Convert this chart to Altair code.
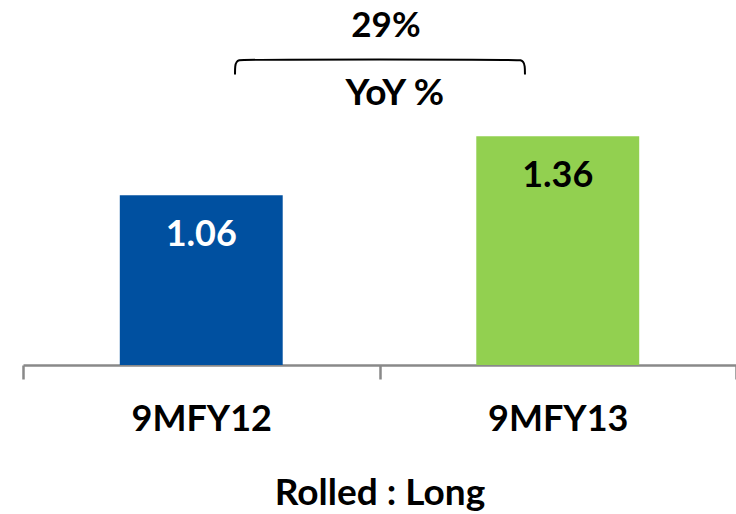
import altair as alt
import pandas as pd

# --- data ---
categories = ["9MFY12", "9MFY13"]
values = [1.06, 1.36]
bar_colors = ["#0050A0", "#92D050"]
label_colors = ["#FFFFFF", "#000000"]
value_labels = ["1.06", "1.36"]

growth_label = "29%"
growth_caption = "YoY %"
x_title = "Rolled : Long"

# bracket annotation (x in band units 0..2, y in value units)
bracket_x = [0.5947, 0.5947, 0.599, 0.606, 0.617, 1.385, 1.396, 1.403, 1.408, 1.408]
bracket_y = [1.672, 1.718, 1.738, 1.745, 1.748, 1.748, 1.745, 1.738, 1.718, 1.672]
annot_x = [1.018, 1.043]
annot_y = [1.92, 1.575]
annot_text = [growth_label, growth_caption]
annot_size = [35, 37]

FONT = "Lato"
Y_BASE = 0.2

bars_df = pd.DataFrame({
    "cat": categories, "val": values, "color": bar_colors,
    "lcolor": label_colors, "label": value_labels,
})
bracket_df = pd.DataFrame({"x": bracket_x, "y": bracket_y, "i": list(range(len(bracket_x)))})
annot_df = pd.DataFrame({"x": annot_x, "y": annot_y, "t": annot_text, "s": annot_size})

yscale = alt.Scale(domain=[Y_BASE, 2.05], zero=False)
bscale = alt.Scale(paddingInner=0, paddingOuter=0)

xenc = alt.X(
    "cat:N", sort=categories, title=x_title, scale=bscale,
    axis=alt.Axis(
        labelAngle=0, labelFont=FONT, labelFontSize=36, labelFontWeight="bold",
        labelColor="#000000", labelPadding=23,
        domainColor="#898989", domainWidth=2.5,
        tickColor="#898989", tickWidth=2.5, tickSize=14, tickBand="extent",
        titleFont=FONT, titleFontSize=37, titleFontWeight="bold", titleColor="#000000",
        titlePadding=38,
    ),
)

bars = alt.Chart(bars_df).mark_bar(width={"band": 0.457}).encode(
    x=xenc,
    y=alt.Y("val:Q", scale=yscale, axis=None),
    y2=alt.Y2(datum=Y_BASE),
    color=alt.Color("color:N", scale=None, legend=None),
)

bar_text = alt.Chart(bars_df).mark_text(
    font=FONT, fontSize=36, fontWeight="bold", baseline="middle", dy=40
).encode(
    x=alt.X("cat:N", sort=categories, scale=bscale, axis=None),
    y=alt.Y("val:Q", scale=yscale, axis=None),
    text="label:N",
    color=alt.Color("lcolor:N", scale=None, legend=None),
)

qx = alt.Scale(domain=[0, 2])

bracket = alt.Chart(bracket_df).mark_line(
    color="#000000", strokeWidth=2, interpolate="basis"
).encode(
    x=alt.X("x:Q", scale=qx, axis=None),
    y=alt.Y("y:Q", scale=yscale, axis=None),
    order="i:Q",
)

annot = alt.Chart(annot_df).mark_text(
    font=FONT, fontWeight="bold", baseline="middle", align="center", color="#000000"
).encode(
    x=alt.X("x:Q", scale=qx, axis=None),
    y=alt.Y("y:Q", scale=yscale, axis=None),
    text="t:N",
    size=alt.Size("s:Q", scale=None, legend=None),
)

chart = alt.layer(bars, bar_text, bracket, annot).resolve_scale(x="independent").properties(
    width=713, height=365,
    padding={"left": 23, "top": 0, "right": 0, "bottom": 149},
    autosize=alt.AutoSizeParams(type="none"),
    background="#FFFFFF",
).configure_view(stroke=None)

chart.save("out.html", embed_options={"renderer": "svg", "actions": False})
